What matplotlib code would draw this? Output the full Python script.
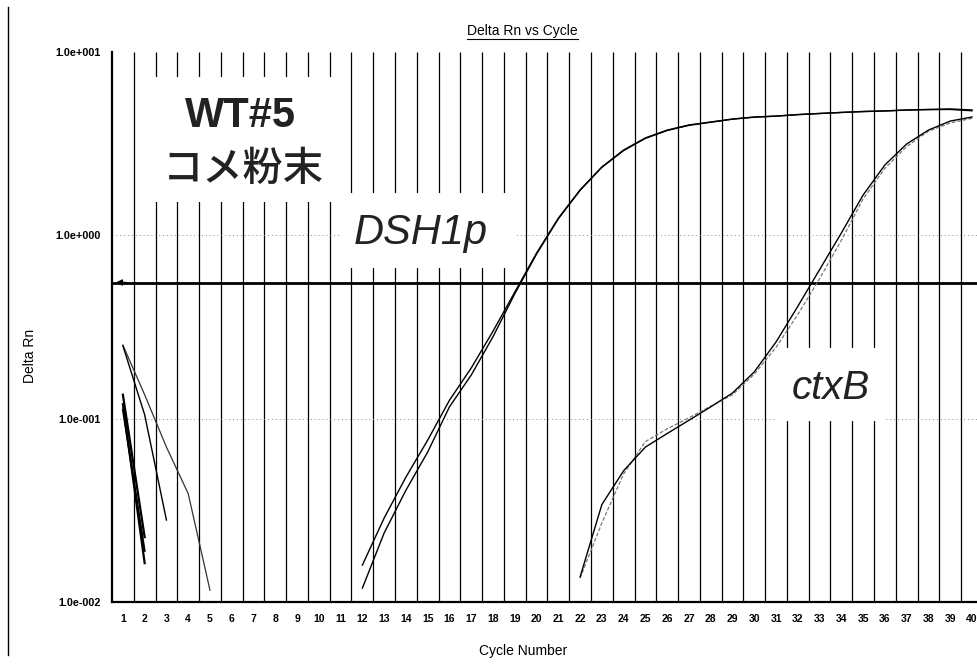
import numpy as np
import matplotlib.pyplot as plt
from matplotlib.lines import Line2D
from matplotlib.patches import Rectangle

# ---------------- data ----------------
cycle_labels = list(range(1, 41))
y_tick_values = [0.01, 0.1, 1.0, 10.0]
y_tick_labels = ["1.0e-002", "1.0e-001", "1.0e+000", "1.0e+001"]

threshold = 0.553

# background / noise traces (early cycles)
noise1_x = [1, 2, 3, 4, 5]
noise1_y = [0.252, 0.135, 0.070, 0.039, 0.0116]
noise2_x = [1, 2, 3]
noise2_y = [0.25, 0.105, 0.028]
noise3_x = [1, 2]
noise3_y = [0.135, 0.0226]
noise4_x = [1, 2]
noise4_y = [0.120, 0.0163]
noise5_x = [1, 2]
noise5_y = [0.112, 0.019]

# DSH1p amplification curves (cycles 12-40)
dsh_x = list(range(12, 41))
dsh1_y = [0.0159, 0.0287, 0.048, 0.0764, 0.126, 0.189, 0.30, 0.49, 0.80, 1.24,
          1.77, 2.36, 2.92, 3.40, 3.75, 4.00, 4.15, 4.31, 4.42, 4.47,
          4.56, 4.62, 4.68, 4.74, 4.77, 4.83, 4.86, 4.89, 4.83]
dsh2_y = [0.0119, 0.0238, 0.0407, 0.0658, 0.116, 0.173, 0.28, 0.48, 0.79, 1.23,
          1.76, 2.35, 2.90, 3.38, 3.73, 3.98, 4.14, 4.30, 4.41, 4.47,
          4.55, 4.62, 4.68, 4.73, 4.77, 4.82, 4.85, 4.86, 4.78]

# ctxB amplification curves (cycles 22-40)
ctx_x = list(range(22, 41))
ctx1_y = [0.0137, 0.034, 0.052, 0.070, 0.083, 0.098, 0.116, 0.138, 0.180, 0.262,
          0.41, 0.65, 1.03, 1.66, 2.42, 3.15, 3.75, 4.20, 4.42]
ctx2_y = [0.0135, 0.027, 0.050, 0.075, 0.088, 0.101, 0.117, 0.135, 0.175, 0.245,
          0.37, 0.58, 0.94, 1.58, 2.32, 3.05, 3.70, 4.10, 4.35]

# ---------------- figure ----------------
W, H = 977, 664
fig = plt.figure(figsize=(W / 100, H / 100), dpi=100)
fig.patch.set_facecolor("white")

ax_left, ax_right, ax_top, ax_bottom = 112, 977, 52, 602
ax = fig.add_axes([ax_left / W, (H - ax_bottom) / H,
                   (ax_right - ax_left) / W, (ax_bottom - ax_top) / H])
ax.set_yscale("log")
ax.set_ylim(0.01, 10)
ax.set_xlim(0.5, 40.23)

# vertical grid lines between cycles
grid_x = np.arange(1.5, 40.0, 1.0)
ax.vlines(grid_x, 0.01, 10, colors="black", linewidth=0.9, zorder=1)
# faint dotted horizontal grid at decades
for yv in y_tick_values[1:3]:
    ax.axhline(yv, color="#888888", linewidth=0.7, linestyle=(0, (1, 3)), zorder=1)

for s in ["top", "right"]:
    ax.spines[s].set_visible(False)
for s in ["left", "bottom"]:
    ax.spines[s].set_linewidth(1.6)
    ax.spines[s].set_color("black")

ax.set_xticks(cycle_labels)
ax.set_xticklabels([str(c) for c in cycle_labels], fontsize=7.5,
                   fontweight="bold", family="Liberation Sans")
ax.set_yticks(y_tick_values)
ax.set_yticklabels(y_tick_labels, fontsize=7.8, fontweight="bold",
                   family="Liberation Sans")
ax.minorticks_off()
ax.tick_params(axis="both", length=0)
ax.tick_params(axis="x", pad=9)
ax.tick_params(axis="y", pad=8)

# white boxes behind the annotation texts
def axbox(x0, y0, x1, y1):
    fx0 = (x0 - ax_left) / (ax_right - ax_left)
    fx1 = (x1 - ax_left) / (ax_right - ax_left)
    fy0 = (ax_bottom - y1) / (ax_bottom - ax_top)
    fy1 = (ax_bottom - y0) / (ax_bottom - ax_top)
    ax.add_patch(Rectangle((fx0, fy0), fx1 - fx0, fy1 - fy0, transform=ax.transAxes,
                           facecolor="white", edgecolor="none", zorder=3))

axbox(144, 77, 342, 202)
axbox(342, 193, 516, 268)
axbox(777, 348, 885, 421)

def axpos(px, py):
    return ((px - ax_left) / (ax_right - ax_left),
            (ax_bottom - py) / (ax_bottom - ax_top))

ax.text(*axpos(240, 116), "WT#5", transform=ax.transAxes, ha="center", va="center",
        fontsize=30, fontweight="bold", family="Liberation Sans", color="#222222", zorder=4)
ax.text(*axpos(243, 169), "コメ粉末", transform=ax.transAxes, ha="center", va="center",
        fontsize=29, fontweight="medium", family=["Noto Sans CJK JP", "DejaVu Sans"],
        color="#222222", zorder=4)
ax.text(*axpos(421, 233), "DSH1p", transform=ax.transAxes, ha="center", va="center",
        fontsize=30, style="italic", family="Liberation Sans", color="#222222", zorder=4)
ax.text(*axpos(831, 388), "ctxB", transform=ax.transAxes, ha="center", va="center",
        fontsize=29, style="italic", family="Liberation Sans", color="#222222", zorder=4)

# threshold line with arrow head on the left
ax.axhline(threshold, color="black", linewidth=2.0, zorder=5)
ax.annotate("", xy=(0.55, threshold), xytext=(1.3, threshold),
            arrowprops=dict(arrowstyle="-|>", color="black", lw=1.0,
                            mutation_scale=9), zorder=6)

# curves
ax.plot(noise1_x, noise1_y, color="#333333", linewidth=0.9, zorder=5)
ax.plot(noise2_x, noise2_y, color="black", linewidth=1.0, zorder=5)
ax.plot(noise3_x, noise3_y, color="black", linewidth=1.6, zorder=5)
ax.plot(noise4_x, noise4_y, color="black", linewidth=1.6, zorder=5)
ax.plot(noise5_x, noise5_y, color="black", linewidth=1.4, zorder=5)

ax.plot(dsh_x, dsh1_y, color="black", linewidth=1.0, zorder=5)
ax.plot(dsh_x, dsh2_y, color="black", linewidth=1.0, zorder=5)

ax.plot(ctx_x, ctx2_y, color="#777777", linewidth=0.9, linestyle=(0, (3, 1.5)), zorder=5)
ax.plot(ctx_x, ctx1_y, color="black", linewidth=1.0, zorder=5)

# title with underline, axis labels
fig.text(522 / W, 1 - 31 / H, "Delta Rn vs Cycle", ha="center", va="center",
         fontsize=10, family="Liberation Sans")
fig.add_artist(Line2D([467 / W, 578 / W], [1 - 39 / H, 1 - 39 / H],
                      color="black", linewidth=0.8))
fig.text(30 / W, 1 - 356 / H, "Delta Rn", rotation=90, ha="center", va="center",
         fontsize=10, family="Liberation Sans")
fig.text(523 / W, 1 - 651 / H, "Cycle Number", ha="center", va="center",
         fontsize=10, family="Liberation Sans")

# left scan border
fig.add_artist(Line2D([8 / W, 8 / W], [1 - 7 / H, 1 - 655 / H],
                      color="black", linewidth=1.0))

fig.savefig("out.png", dpi=100, facecolor="white")
